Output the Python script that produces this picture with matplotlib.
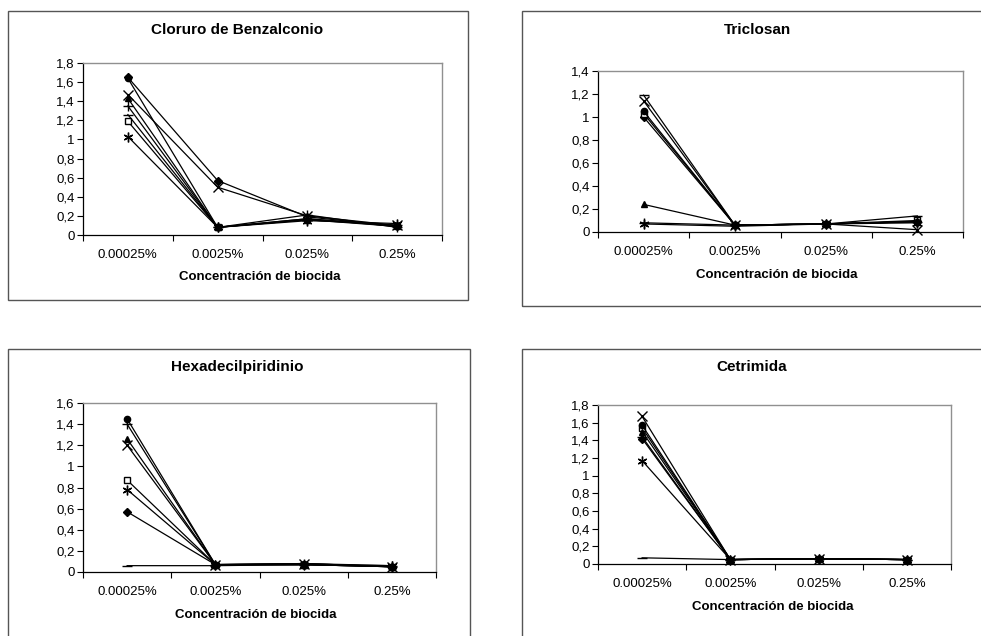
import matplotlib.pyplot as plt
from matplotlib.patches import Rectangle

plt.rcParams['font.family'] = ['Liberation Sans', 'DejaVu Sans']

categorias = ['0.00025%', '0.0025%', '0.025%', '0.25%']
titulos = ['Cloruro de Benzalconio', 'Triclosan', 'Hexadecilpiridinio', 'Cetrimida']
xlabel = 'Concentración de biocida'

# marcadores estilo Excel (una serie por cepa)
marcadores = ['D', 's', '^', 'x', (6, 2, 0), 'o', '+', '_']

# valores: una lista por serie, en el orden de marcadores
benzalconio = [
    [1.65, 0.57, 0.19, 0.09],
    [1.19, 0.08, 0.17, 0.09],
    [1.43, 0.08, 0.16, 0.10],
    [1.47, 0.50, 0.20, 0.10],
    [1.03, 0.08, 0.15, 0.12],
    [1.64, 0.08, 0.16, 0.09],
    [1.35, 0.08, 0.21, 0.08],
    [1.26, 0.08, 0.17, 0.10],
]
triclosan = [
    [1.00, 0.06, 0.07, 0.09],
    [1.03, 0.06, 0.07, 0.10],
    [0.24, 0.06, 0.07, 0.09],
    [1.14, 0.06, 0.07, 0.02],
    [0.07, 0.05, 0.07, 0.08],
    [1.05, 0.06, 0.07, 0.09],
    [0.08, 0.06, 0.07, 0.09],
    [1.19, 0.06, 0.07, 0.14],
]
hexadecil = [
    [0.57, 0.07, 0.07, 0.05],
    [0.87, 0.07, 0.07, 0.05],
    [1.26, 0.07, 0.07, 0.05],
    [1.20, 0.07, 0.08, 0.05],
    [0.78, 0.07, 0.07, 0.06],
    [1.45, 0.07, 0.08, 0.05],
    [1.40, 0.07, 0.08, 0.06],
    [0.06, 0.06, 0.07, 0.05],
]
cetrimida = [
    [1.42, 0.05, 0.06, 0.05],
    [1.54, 0.05, 0.06, 0.05],
    [1.50, 0.05, 0.06, 0.05],
    [1.67, 0.05, 0.06, 0.05],
    [1.17, 0.05, 0.06, 0.05],
    [1.57, 0.05, 0.06, 0.05],
    [1.44, 0.05, 0.06, 0.05],
    [0.07, 0.05, 0.06, 0.05],
]
datos = [benzalconio, triclosan, hexadecil, cetrimida]
ymax = [1.8, 1.4, 1.6, 1.8]

W, H = 981, 636
fig = plt.figure(figsize=(W / 100, H / 100), dpi=100)

# cajas de cada grafico (px): x0, y0, x1, y1
cajas = [(8, 11, 468, 300), (522, 11, 990, 306), (8, 349, 470, 650), (522, 349, 990, 650)]
# area de trazado (px)
areas = [(83, 63, 442, 235), (598, 71, 963, 232), (83, 403, 436, 572), (598, 405, 951, 564)]
# posicion titulo y etiqueta x (px)
pos_titulo = [(237, 30), (757, 30), (237, 367), (752, 367)]
pos_xlabel = [(260, 277), (777, 275), (256, 615), (773, 607)]


def fx(px):
    return px / W


def fy(py):
    return 1 - py / H


for i in range(4):
    x0, y0, x1, y1 = cajas[i]
    fig.patches.append(Rectangle((fx(x0), fy(y1)), fx(x1 - x0), (y1 - y0) / H,
                                 transform=fig.transFigure, fill=False,
                                 edgecolor='#555555', linewidth=1.0))
    a0, b0, a1, b1 = areas[i]
    ax = fig.add_axes([fx(a0), fy(b1), fx(a1 - a0), (b1 - b0) / H])
    xs = [0.5, 1.5, 2.5, 3.5]
    for serie, m in zip(datos[i], marcadores):
        fc = 'white' if m == 's' else 'black'
        ms = 4.5 if m in ('D', 's', 'o', '^') else 7
        ax.plot(xs, serie, color='black', linewidth=0.9, marker=m, markersize=ms,
                markerfacecolor=fc, markeredgecolor='black', markeredgewidth=1.0,
                clip_on=False)
    ax.set_xlim(0, 4)
    ax.set_ylim(0, ymax[i])
    yt = [round(v * 0.2, 1) for v in range(int(round(ymax[i] / 0.2)) + 1)]
    ax.set_yticks(yt)
    ax.set_yticklabels([('%g' % v).replace('.', ',') for v in yt])
    ax.set_xticks([0, 1, 2, 3, 4])
    ax.set_xticklabels([])
    ax.set_xticks(xs, minor=True)
    ax.set_xticklabels(categorias, minor=True)
    ax.tick_params(axis='x', which='major', direction='out', length=4, width=0.8)
    ax.tick_params(axis='x', which='minor', length=0, pad=10, labelsize=9.5)
    ax.tick_params(axis='y', direction='out', length=4, width=0.8, labelsize=9.5, pad=2)
    for s in ['top', 'right']:
        ax.spines[s].set_color('#909090')
        ax.spines[s].set_linewidth(1.0)
    for s in ['left', 'bottom']:
        ax.spines[s].set_color('black')
        ax.spines[s].set_linewidth(0.9)
    tx, ty = pos_titulo[i]
    fig.text(fx(tx), fy(ty), titulos[i], ha='center', va='center',
             fontsize=11, fontweight='bold')
    lx, ly = pos_xlabel[i]
    fig.text(fx(lx), fy(ly), xlabel, ha='center', va='center',
             fontsize=9.5, fontweight='bold')

fig.savefig('out.png', dpi=100)
